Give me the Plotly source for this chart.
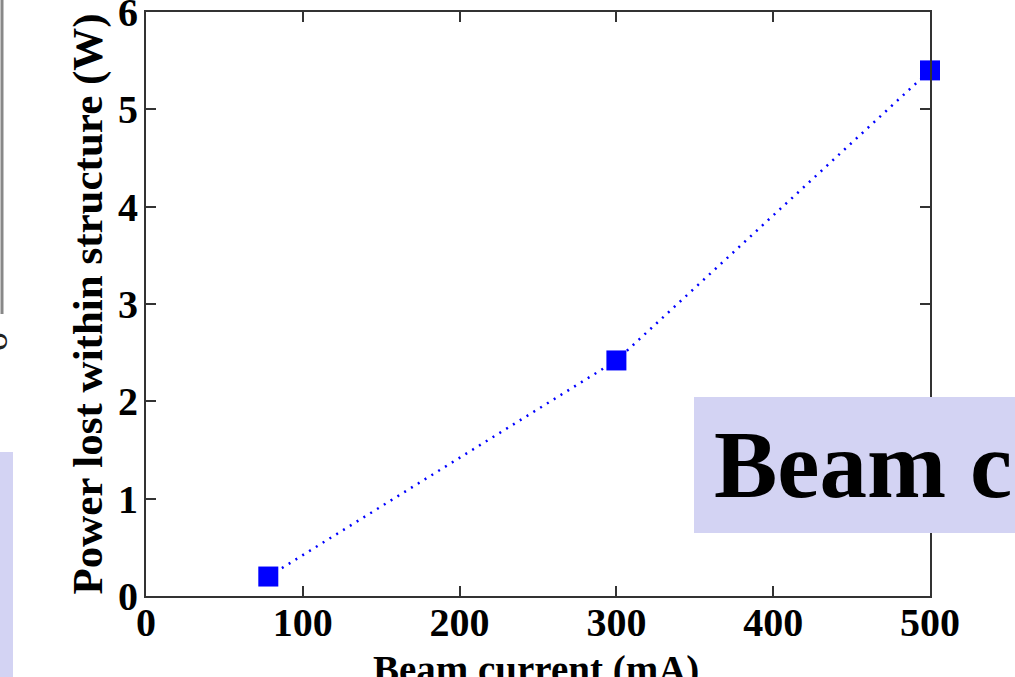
import plotly.graph_objects as go

beam_current = [78, 300, 500]
power_lost = [0.2, 2.42, 5.4]
x_ticks = [0, 100, 200, 300, 400, 500]
y_ticks = [0, 1, 2, 3, 4, 5, 6]

FONT = "Liberation Serif"
W, H = 1015, 677
L, R, T, B = 146, 85, 12, 81
PW, PH = W - L - R, H - T - B


def px_x(px):
    return (px - L) / PW


def px_y(py):
    return (H - B - py) / PH


fig = go.Figure()
fig.add_trace(go.Scatter(
    x=beam_current, y=power_lost, mode="lines+markers",
    line=dict(color="#0000ff", width=2.5, dash="2px,6px"),
    marker=dict(symbol="square", size=20, color="#0000ff", line=dict(width=0)),
    showlegend=False, cliponaxis=False,
))

axis_common = dict(
    showgrid=False, zeroline=False, showline=True, linecolor="#333333", linewidth=2,
    mirror="ticks", ticks="inside", ticklen=10, tickwidth=2, tickcolor="#333333",
    tickfont=dict(family=FONT, size=40, color="#000000", weight="bold"),
    automargin=False, ticklabeloverflow="allow",
)

fig.update_xaxes(
    range=[0, 500], tickvals=x_ticks, ticktext=[str(v) for v in x_ticks],
    ticklabelstandoff=-10,
    **axis_common,
)
fig.update_yaxes(
    range=[0, 6], tickvals=y_ticks, ticktext=[str(v) for v in y_ticks],
    ticklabelstandoff=-2,
    title=dict(text="<b>Power lost within structure (W)</b>", font=dict(family=FONT, size=43, color="#000000"), standoff=2),
    **axis_common,
)

shapes = [
    # lavender box with text on right
    dict(type="rect", xref="paper", yref="paper", layer="above",
         x0=px_x(694), x1=px_x(1016), y0=px_y(533), y1=px_y(397),
         fillcolor="#d3d3f3", line=dict(width=0)),
    # lavender box at bottom-left edge
    dict(type="rect", xref="paper", yref="paper", layer="above",
         x0=px_x(-1), x1=px_x(13), y0=px_y(678), y1=px_y(452),
         fillcolor="#d3d3f3", line=dict(width=0)),
    # gray vertical line at top-left edge
    dict(type="line", xref="paper", yref="paper", layer="above",
         x0=px_x(2), x1=px_x(2), y0=px_y(314), y1=px_y(-2),
         line=dict(color="#888888", width=3)),
]

annotations = [
    dict(text="<b>Beam c</b>", xref="paper", yref="paper",
         x=px_x(712), y=px_y(465), xanchor="left", yanchor="middle", showarrow=False,
         font=dict(family=FONT, size=95, color="#000000")),
    dict(text="<b>Beam current (mA)</b>", xref="paper", yref="paper",
         x=px_x(536), y=px_y(646), xanchor="center", yanchor="top", showarrow=False,
         font=dict(family=FONT, size=39, color="#000000")),
    dict(text="o", xref="paper", yref="paper",
         x=px_x(-6), y=px_y(342), xanchor="center", yanchor="middle", showarrow=False,
         textangle=-90, font=dict(family=FONT, size=38, color="#222222")),
]

fig.update_layout(
    width=W, height=H,
    margin=dict(l=L, r=R, t=T, b=B, pad=0, autoexpand=False),
    paper_bgcolor="#ffffff", plot_bgcolor="#ffffff",
    shapes=shapes, annotations=annotations,
)

fig.write_html("out.html")
